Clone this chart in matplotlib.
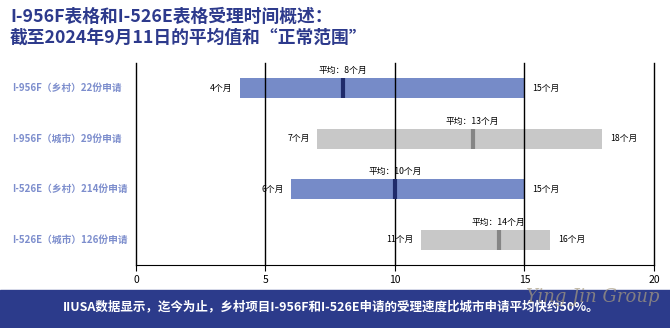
import matplotlib.pyplot as plt
import matplotlib.transforms as mtransforms
from matplotlib.patches import Rectangle

plt.rcParams['font.family'] = ['Noto Sans CJK SC', 'DejaVu Sans']

# processing times in months
categories = ['I-956F（乡村）22份申请', 'I-956F（城市）29份申请',
              'I-526E（乡村）214份申请', 'I-526E（城市）126份申请']
low = [4, 7, 6, 11]
high = [15, 18, 15, 16]
mean = [8, 13, 10, 14]
rural = [True, False, True, False]
xticks = [0, 5, 10, 15, 20]

navy = '#2d3a8c'
blue = '#768bc8'
grey = '#c8c8c8'

fig = plt.figure(figsize=(6.7, 3.28), dpi=100)
ax = fig.add_axes([0.203, 0.192, 0.773, 0.616])
ax.set_xlim(0, 20)
ax.set_ylim(3.5, -0.5)

# labels sit at figure-x, data-y
lab_tr = mtransforms.blended_transform_factory(fig.transFigure, ax.transData)

for i in range(len(categories)):
    bar_c = blue if rural[i] else grey
    mark_c = '#1f2b6b' if rural[i] else '#858585'
    ax.barh(i, high[i] - low[i], left=low[i], height=0.4, color=bar_c, zorder=1)
    ax.vlines(mean[i], i - 0.2, i + 0.2, color=mark_c, linewidth=3, zorder=3)
    ax.text(low[i] - 0.3, i, f'{low[i]}个月', ha='right', va='center', fontsize=6.3, zorder=4)
    ax.text(high[i] + 0.3, i, f'{high[i]}个月', ha='left', va='center', fontsize=6.3, zorder=4)
    ax.text(mean[i], i - 0.26, f'平均：{mean[i]}个月', ha='center', va='bottom', fontsize=6.3, zorder=4)
    fig.text(0.018, i, categories[i], transform=lab_tr,
             ha='left', va='center', fontsize=7, fontweight='bold', color='#7d8ecd')

for x in xticks:
    ax.axvline(x, color='black', linewidth=1, zorder=2, clip_on=False)

ax.set_xticks(xticks)
ax.set_yticks([])
ax.tick_params(axis='x', labelsize=7.5, length=4)
for s in ['top', 'left', 'right']:
    ax.spines[s].set_visible(False)

# title
fig.text(0.015, 0.975, 'I-956F表格和I-526E表格受理时间概述：\n截至2024年9月11日的平均值和“正常范围”',
         ha='left', va='top', fontsize=12.8, fontweight='bold', color=navy, linespacing=1.2)

# footer banner
fig.add_artist(Rectangle((0, 0), 1, 0.116, transform=fig.transFigure, color='#2c3b8b', zorder=0))
fig.text(0.495, 0.064, 'IIUSA数据显示，迄今为止，乡村项目I-956F和I-526E申请的受理速度比城市申请平均快约50%。',
         ha='center', va='center', fontsize=9, fontweight='bold', color='white')
fig.text(0.884, 0.095, 'Ying Jin Group', ha='center', va='center', fontsize=13,
         family='DejaVu Serif', style='italic', color='#a89c80', alpha=0.7)

fig.savefig('out.png', dpi=100)
